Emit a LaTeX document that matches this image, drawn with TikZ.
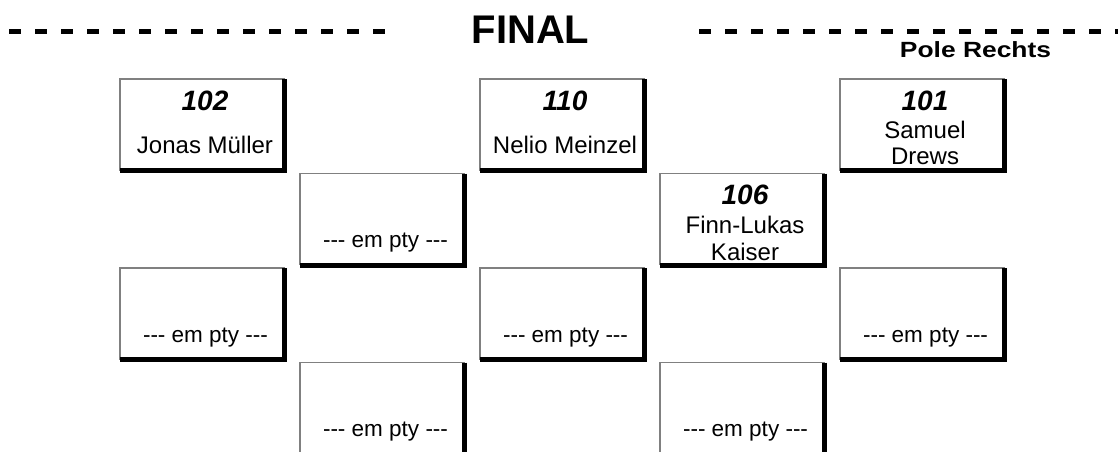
\documentclass[tikz,border=0pt]{standalone}
\usepackage{fontspec}
\usepackage{graphicx}
\setmainfont{Liberation Sans}
\definecolor{edgegray}{RGB}{128,128,128}
\newcommand\hy{\mbox{-}}
\newcommand\emptytxt{\hy\hy\hy{} em pty \hy\hy\hy}
\tikzset{
  seatbox/.style={anchor=north west, minimum width=164.5pt, minimum height=91.5pt, inner sep=0pt, outer sep=0pt},
  numtxt/.style={anchor=base, inner sep=0pt, font=\fontsize{28}{30}\selectfont\bfseries\itshape},
  nametxt/.style={anchor=base, inner sep=0pt, font=\fontsize{24}{26}\selectfont},
  emptylbl/.style={anchor=base, inner sep=0pt, font=\fontsize{22.5}{25}\selectfont},
  graybord/.style={draw=edgegray, line width=1.3pt},
  blackbord/.style={draw=black, line width=5pt, miter limit=10},
  topdash/.style={line width=5.5pt, dash pattern=on 11.5pt off 14.5pt}
}
\newcommand\seat[3]{% name, L, T
  \node[seatbox] (#1) at (#2,#3) {};
  \draw[graybord] (#1.south west) |- (#1.north east);
  \draw[blackbord] (#1.north east) -- (#1.south east) -- (#1.south west);
}
\begin{document}
\begin{tikzpicture}[x=1pt,y=-1pt]
\useasboundingbox (0,0) rectangle (1118,452);
% header
\coordinate (dl1) at (9.3,31.5);
\coordinate (dl2) at (386,31.5);
\coordinate (dr1) at (699,31.5);
\coordinate (dr2) at (1140,31.5);
\draw[topdash] (dl1) -- (dl2);
\draw[topdash] (dr1) -- (dr2);
\node[anchor=base, inner sep=0pt, font=\fontsize{40}{42}\selectfont\bfseries] (title) at (530.5,44) {FINAL};
\node[anchor=base, inner sep=0pt, font=\fontsize{22}{24}\selectfont\bfseries] (pole) at (975.5,58) {\scalebox{1.2}[1]{Pole Rechts}};
% row 1
\seat{s102}{120}{79}
\node[numtxt] (n102) at (205,110) {102};
\node[nametxt] (m102) at (205,153) {Jonas Müller};
\seat{s110}{480}{79}
\node[numtxt] (n110) at (565,110) {110};
\node[nametxt] (m110) at (565,153) {Nelio Meinzel};
\seat{s101}{840}{79}
\node[numtxt] (n101) at (925,110) {101};
\node[nametxt] (m101a) at (925,138) {Samuel};
\node[nametxt] (m101b) at (925,164) {Drews};
% row 2
\seat{e1}{300}{173.5}
\node[emptylbl] (t1) at (385.5,247) {\emptytxt};
\seat{s106}{660}{173.5}
\node[numtxt] (n106) at (745,204) {106};
\node[nametxt] (m106a) at (745,233) {Finn-Lukas};
\node[nametxt] (m106b) at (745,260) {Kaiser};
% row 3
\seat{e2}{120}{268}
\node[emptylbl] (t2) at (205.5,342) {\emptytxt};
\seat{e3}{480}{268}
\node[emptylbl] (t3) at (565.5,342) {\emptytxt};
\seat{e4}{840}{268}
\node[emptylbl] (t4) at (925.5,342) {\emptytxt};
% row 4
\seat{e5}{300}{362.5}
\node[emptylbl] (t5) at (385.5,436.5) {\emptytxt};
\seat{e6}{660}{362.5}
\node[emptylbl] (t6) at (745.5,436.5) {\emptytxt};
\end{tikzpicture}
\end{document}
